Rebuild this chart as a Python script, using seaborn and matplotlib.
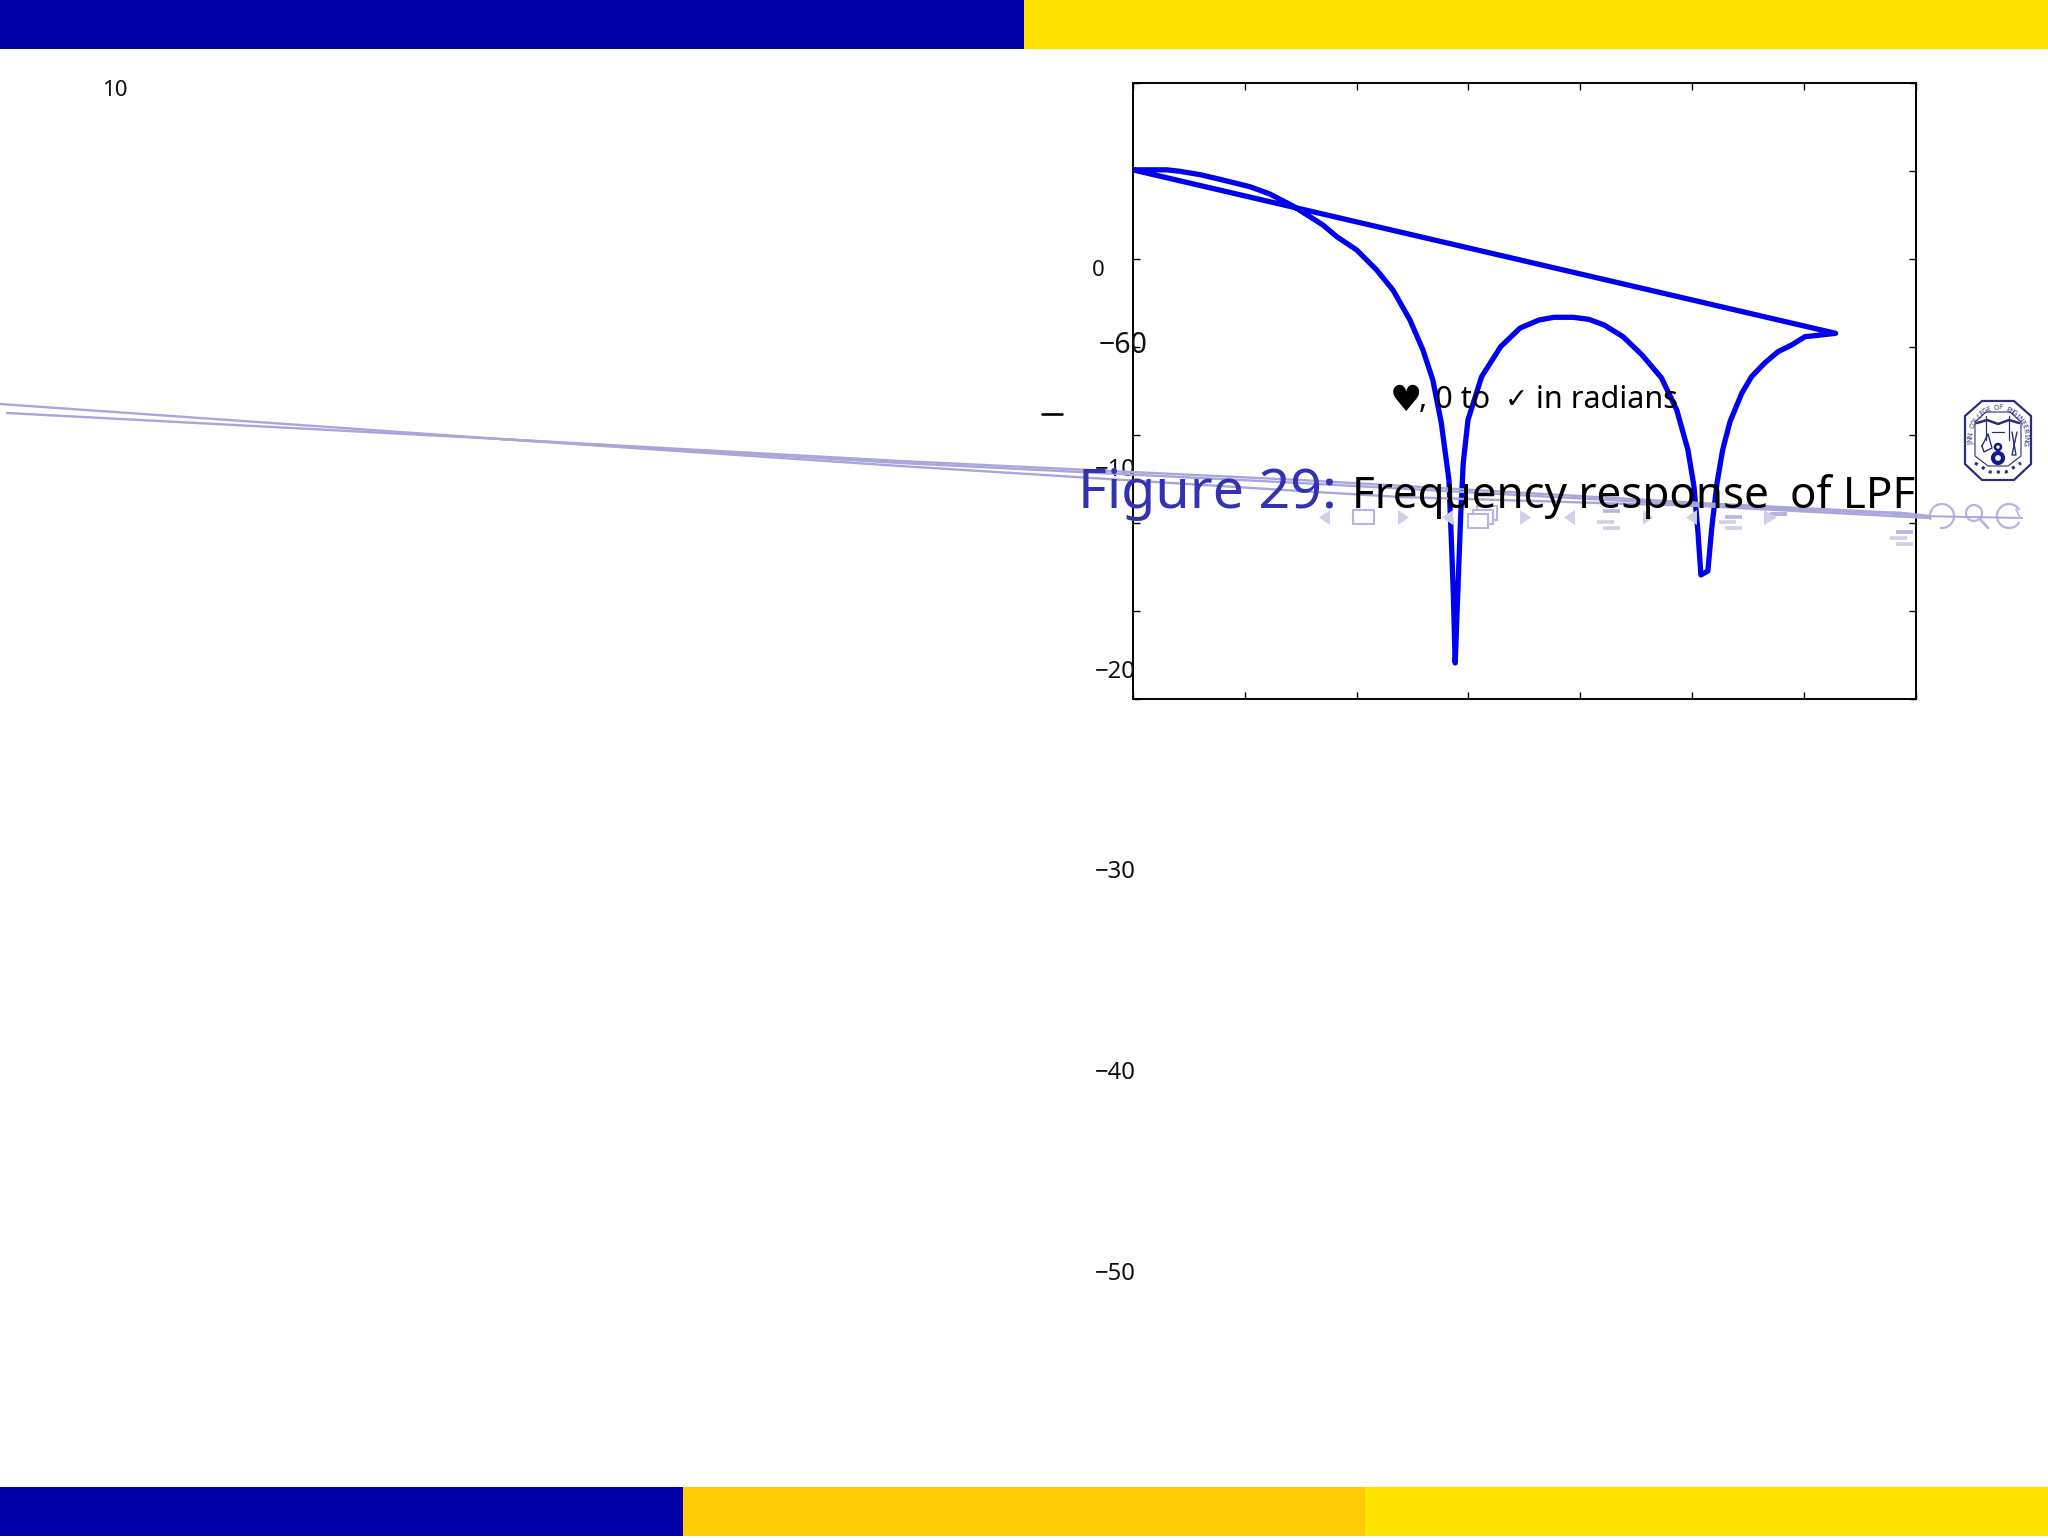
import numpy as np
import pandas as pd
import seaborn as sns
import matplotlib.pyplot as plt
from matplotlib.patches import Rectangle, Polygon, Circle, Arc

# frequency response (radians, dB), last point closes back to the start
freq = [0.0, 0.152, 0.211, 0.301, 0.390, 0.524, 0.613, 0.716, 0.792, 0.850, 0.912, 1.001,
        1.090, 1.163, 1.239, 1.297, 1.341, 1.379, 1.413, 1.425, 1.433, 1.441, 1.452, 1.466,
        1.477, 1.498, 1.559, 1.644, 1.731, 1.815, 1.882, 1.969, 2.038, 2.106, 2.191, 2.276,
        2.363, 2.431, 2.481, 2.508, 2.525, 2.539, 2.570, 2.588, 2.611, 2.636, 2.669, 2.722,
        2.765, 2.824, 2.883, 2.944, 3.004, 3.046, 3.141, 0.0]
mag_db = [0.1, 0.1, -0.07, -0.45, -0.98, -1.82, -2.65, -4.01, -5.23, -6.17, -7.5, -9.01,
          -11.28, -13.56, -16.97, -20.38, -23.78, -28.67, -35.15, -42.73, -48.41, -55.94, -48.41, -38.9,
          -33.22, -28.33, -23.41, -20.0, -17.88, -16.97, -16.66, -16.66, -16.89, -17.53, -18.86, -20.94,
          -23.56, -27.19, -31.74, -35.9, -40.83, -45.94, -45.49, -40.45, -35.49, -31.74, -28.52, -25.26,
          -23.41, -21.85, -20.57, -19.81, -18.86, -18.75, -18.48, 0.1]

x_ticks = [0, 0.5, 1, 1.5, 2, 2.5, 3, 3.5]
y_ticks = [-60, -50, -40, -30, -20, -10, 0, 10]
y_labels = ['10', '0', '\u221210', '\u221220', '\u221230', '\u221240', '\u221250', '\u221260']

W, H = 2048, 1538
BLUE = '#0000A6'
YELLOW = '#FFE200'
ORANGE = '#FFCC05'
GHOST = '#A9A6DC'
ICON = '#CFCFEA'
ICON2 = '#B6B4E2'
LOGO = '#2B2F78'

sns.set_theme(style='ticks')
plt.rcParams['font.family'] = ['Noto Sans', 'DejaVu Sans']

fig = plt.figure(figsize=(W / 100, H / 100), dpi=100, facecolor='white')

ax = fig.add_axes([1132.7 / W, 1 - 698.7 / H, (1916 - 1132.7) / W, (698.7 - 82.7) / H])
df = pd.DataFrame({'freq': freq, 'mag': mag_db})
sns.lineplot(data=df, x='freq', y='mag', sort=False, estimator=None, color='#0000F0',
             linewidth=3.8, ax=ax, solid_joinstyle='round')
ax.set_xlim(0, 3.5)
ax.set_ylim(-60, 10)
ax.set_xticks(x_ticks)
ax.set_yticks(y_ticks)
ax.set_xticklabels([])
ax.set_yticklabels([])
ax.set_xlabel('')
ax.set_ylabel('')
ax.tick_params(direction='in', length=5, width=1, top=True, right=True, color='black')
for s in ax.spines.values():
    s.set_visible(True)
    s.set_linewidth(1.4)
    s.set_color('black')

# the slide furniture is placed in pixels on a transparent layer
top = fig.add_axes([0, 0, 1, 1], facecolor='none')
top.set_xlim(0, W)
top.set_ylim(H, 0)
top.axis('off')

top.add_patch(Rectangle((0, 0), 1024, 49, color=BLUE, lw=0))
top.add_patch(Rectangle((1024, 0), 1024, 49, color=YELLOW, lw=0))
top.add_patch(Rectangle((0, 1487), 683, 49, color=BLUE, lw=0))
top.add_patch(Rectangle((683, 1487), 682, 49, color=ORANGE, lw=0))
top.add_patch(Rectangle((1365, 1487), 683, 49, color=YELLOW, lw=0))

# skewed overlay lines
top.plot([0, 500, 900, 1300, 1400, 1700, 1930], [404, 439, 466, 491, 497, 506, 518], color=GHOST, lw=1.7)
top.plot([7, 500, 900, 1300, 1700, 1900, 1930], [413, 439, 461, 480, 503, 513, 516], color=GHOST, lw=1.7)
top.plot([500, 900, 1300, 1700, 1900], [439, 463, 483, 505, 514], color=GHOST, lw=1.7)
top.plot([1917, 2022], [516, 518], color=GHOST, lw=1.4)
top.add_patch(Polygon([(1892, 511), (1915, 513), (1915, 518), (1892, 517)], color=ICON2, lw=0))
top.add_patch(Rectangle((1770, 512), 17, 4, color=ICON2, lw=0))

# navigation symbols
for x0, x1 in [(1330, 1319), (1453, 1442), (1575, 1564), (1697, 1686)]:
    top.add_patch(Polygon([(x0, 510), (x0, 525), (x1, 517.5)], color=ICON, lw=0))
for x0, x1 in [(1398, 1409), (1520, 1531), (1643, 1653), (1764, 1777)]:
    top.add_patch(Polygon([(x0, 510), (x0, 525), (x1, 517.5)], color=ICON, lw=0))
top.add_patch(Rectangle((1353, 510), 21, 14, fc='white', ec=ICON2, lw=1.5))
for x0, y0 in [(1477, 506), (1473, 510), (1468, 514)]:
    top.add_patch(Rectangle((x0, y0), 20, 14, fc='white', ec=ICON2, lw=1.5, zorder=2))
for xs, ys in [((1603, 1620), (510.7, 522.3, 528.3)), ((1725, 1742), (516.7, 522, 528)), ((1896, 1913), (532, 538, 544))]:
    for i, yy in enumerate(ys):
        shift = -6 if i == 1 else 0
        top.plot([xs[0] + shift, xs[1] + shift], [yy, yy], color=ICON2 if i == 0 else ICON, lw=2.6, solid_capstyle='butt')
top.add_patch(Arc((1942, 516), 24, 24, theta1=-200, theta2=100, ec=ICON2, lw=1.6))
top.add_patch(Circle((1974, 513), 8, fc='none', ec=ICON2, lw=1.6))
top.plot([1980, 1988], [519, 528], color=ICON2, lw=2)
top.add_patch(Arc((2009, 516), 24, 24, theta1=30, theta2=330, ec=ICON2, lw=1.6))
top.plot([2016, 2020, 2014], [509, 518, 518], color=ICON2, lw=1.2)

# college crest, rough shapes only
octagon = [(1982, 401), (2014, 401), (2031, 416), (2031, 464), (2014, 480), (1982, 480), (1965, 464), (1965, 416)]
top.add_patch(Polygon(octagon, fc='white', ec=LOGO, lw=1.6))
inner = [(1986, 412), (2010, 412), (2021, 422), (2021, 456), (2008, 466), (1988, 466), (1975, 456), (1975, 422)]
top.add_patch(Polygon(inner, fc='white', ec=LOGO, lw=0.8))
top.plot([1977, 1987, 1998, 2009, 2019], [423, 420, 424, 420, 423], color=LOGO, lw=1.8)
top.plot([1986, 1986], [416, 440], color=LOGO, lw=0.9)
top.plot([2009, 2009], [416, 440], color=LOGO, lw=0.9)
top.plot([1992, 2004], [432, 432], color=LOGO, lw=0.9)
top.add_patch(Circle((1998, 458), 5, fc='none', ec='#101C86', lw=3))
top.add_patch(Circle((1998, 447), 3, fc='none', ec='#101C86', lw=1.8))
top.plot([1982, 1988, 1992, 1984, 1982], [446, 434, 448, 452, 446], color=LOGO, lw=1)
top.plot([2012, 2016, 2012, 2017], [432, 455, 455, 432], color=LOGO, lw=1)
top.plot([1975, 1990, 2006, 2021], [463, 472, 472, 463], color=LOGO, lw=2.2, ls=':')
crest = 'JNN COLLEGE OF ENGINEERING'
for i, ch in enumerate(crest):
    ang = np.radians(190 - i * 200 / (len(crest) - 1))
    top.text(1998 + 27 * np.cos(ang), 438 - 30 * np.sin(ang), ch, fontsize=5.2, color=LOGO, ha='center',
             va='center', rotation=np.degrees(ang) - 90, fontweight='bold')

# tick labels, scattered the way the slide shows them
label_pos = [(115, 87.5, 'center', 16), (1098, 267.5, 'center', 16), (1136, 467.5, 'right', 17.2),
             (1136, 669, 'right', 17.2), (1136, 869, 'right', 17.2), (1136, 1070, 'right', 17.2),
             (1136, 1271, 'right', 17.2), (1148, 342, 'right', 20.5)]
for lab, (px, py, ha, fs) in zip(y_labels, label_pos):
    top.text(px, py, lab, fontsize=fs, color='#111111', ha=ha, va='center_baseline', zorder=1)
top.plot([1042, 1062], [414, 414], color='black', lw=1.9)

# slide text
top.text(1390, 411, '\u2665', fontsize=26, color='black', va='baseline', family=['DejaVu Sans'])
top.text(1419, 408, ', 0 to', fontsize=22, color='black', va='baseline')
top.text(1505, 408, '\u2713', fontsize=20, color='black', va='baseline', family=['DejaVu Sans'])
top.text(1678, 408, 'in radians', fontsize=22, color='black', va='baseline', ha='right')
top.text(1078, 508, 'Figure 29:', fontsize=40, color='#3333B2', va='baseline')
top.text(1352, 508, 'Frequency response', fontsize=31.6, color='black', va='baseline')
top.text(1915, 508, 'of LPF', fontsize=31.6, color='black', va='baseline', ha='right')

fig.savefig('out.png', dpi=100)
